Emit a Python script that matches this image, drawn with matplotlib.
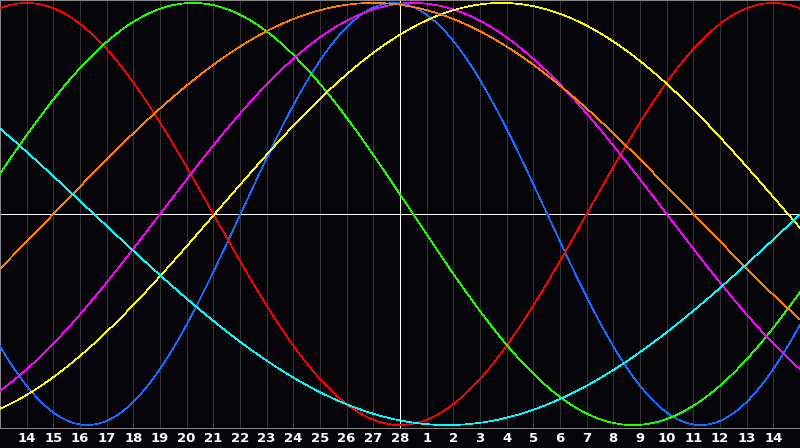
import numpy as np
import matplotlib
matplotlib.use("Agg")
import matplotlib.pyplot as plt

# day labels along the bottom (day of month)
day_labels = [14, 15, 16, 17, 18, 19, 20, 21, 22, 23, 24, 25, 26, 27, 28,
              1, 2, 3, 4, 5, 6, 7, 8, 9, 10, 11, 12, 13, 14]

# cycle names, lengths (days) and the day index of each cycle's peak
cycle_names = ["physical", "emotional", "intellectual", "intuitive",
               "aesthetic", "awareness", "spiritual"]
cycle_periods = [23, 28, 33, 38, 43, 48, 53]
cycle_peaks = [13.77, 0.0, 6.24, 14.5, 17.8, 13.0, -10.73]
cycle_colors = ["#1a6aff", "#ff0000", "#22ff00", "#ff00ff",
                "#ffff00", "#ff8000", "#00ffff"]

bg = "#050509"

fig = plt.figure(figsize=(8, 4.48), dpi=100, facecolor=bg)
ax = fig.add_axes([0, 20 / 448, 1, 428 / 448])
ax.set_facecolor(bg)

# day grid
for i in range(len(day_labels)):
    ax.axvline(i, color="#333333", lw=0.6, antialiased=False, zorder=1)

# biorhythm curves
t = np.linspace(-1, 29, 1200)
for name, per, pk, col in zip(cycle_names, cycle_periods, cycle_peaks, cycle_colors):
    y = np.cos(2 * np.pi * (t - pk) / per)
    ax.plot(t, y, color=col, lw=0.5, antialiased=False, zorder=3)

# today / zero lines
ax.axhline(0, color="white", lw=0.7, antialiased=False, zorder=2)
ax.axvline(14, color="white", lw=0.7, antialiased=False, zorder=2)

ax.set_xlim(-1, 29)
ax.set_ylim(-1.014, 1.014)
ax.set_yticks([])
ax.set_xticks(range(len(day_labels)))
ax.set_xticklabels([str(d) for d in day_labels], color="white",
                   fontsize=9.5, fontweight="bold")
ax.tick_params(axis="x", length=0, pad=3)
for s in ax.spines.values():
    s.set_color("#8a8a8a")
    s.set_linewidth(0.7)

fig.savefig("out.png", dpi=100, facecolor=bg)
